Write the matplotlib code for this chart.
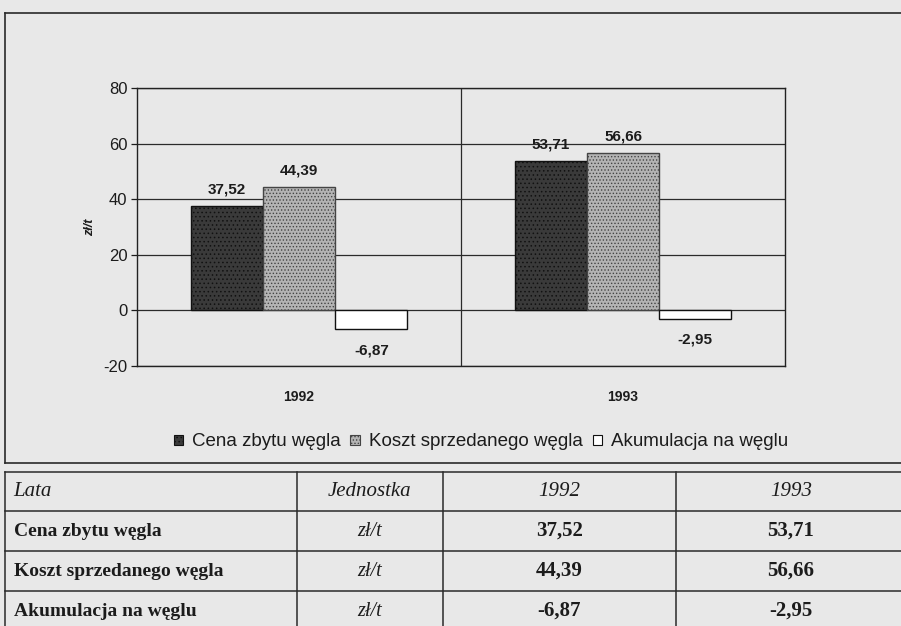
import matplotlib
matplotlib.use('Agg')
import matplotlib.pyplot as plt
from matplotlib.patches import Patch
from matplotlib.font_manager import FontProperties

# ---------------- data ----------------
years = ['1992', '1993']
series = ['Cena zbytu węgla', 'Koszt sprzedanego węgla', 'Akumulacja na węglu']
cena = [37.52, 53.71]
koszt = [44.39, 56.66]
akum = [-6.87, -2.95]
unit = 'zł/t'
table_header = ['Lata', 'Jednostka', '1992', '1993']
yticks = [-20, 0, 20, 40, 60, 80]

# ---------------- style ----------------
BG = '#e8e8e8'
INK = '#1c1c1c'
W, H = 901, 626
plt.rcParams['hatch.linewidth'] = 0.6

fig = plt.figure(figsize=(9.01, 6.26), dpi=100, facecolor=BG)


def fx(px):
    return px / W


def fy(py):
    return 1 - py / H


sans = 'Liberation Sans'
serif = 'Liberation Serif'

# ---------------- chart ----------------
ax = fig.add_axes([fx(137), fy(366), fx(785) - fx(137), fy(88) - fy(366)])
ax.set_facecolor('none')

bw = 0.223
xs = list(range(len(years)))
styles = [
    dict(facecolor='#3a3a3a', edgecolor='#111111', hatch='....'),
    dict(facecolor='#b4b4b4', edgecolor='#444444', hatch='.....'),
    dict(facecolor='white', edgecolor='#111111', hatch=None),
]
data = [cena, koszt, akum]
handles = []
for i, (vals, st) in enumerate(zip(data, styles)):
    pos = [x + (i - 1) * bw for x in xs]
    bars = ax.bar(pos, vals, width=bw, linewidth=1.0, zorder=3, **st)
    handles.append(Patch(linewidth=0.8, **st))
    for b, v in zip(bars, vals):
        txt = f"{v:.2f}".replace('.', ',')
        off = 12 if v >= 0 else -15
        ax.annotate(txt, (b.get_x() + b.get_width() / 2, v),
                    xytext=(0, off), textcoords='offset points',
                    ha='center', va='center', fontsize=11,
                    fontweight='bold', family=sans, color=INK, zorder=4)

ax.set_xlim(-0.5, len(years) - 0.5)
ax.set_ylim(yticks[0], yticks[-1])
ax.set_yticks(yticks)
ax.set_yticklabels([str(t) for t in yticks], family=sans, fontsize=12, color=INK)
ax.tick_params(axis='y', direction='out', length=4, width=0.9, color=INK, pad=3)
ax.set_xticks(xs)
ax.set_xticklabels(years, family=sans, fontsize=10, fontweight='bold', color=INK)
ax.tick_params(axis='x', length=0, pad=17)
ax.yaxis.grid(True, color='#2a2a2a', linewidth=0.9)
ax.set_axisbelow(True)
for k in range(1, len(years)):
    ax.axvline(k - 0.5, color='#2a2a2a', linewidth=0.9, zorder=1)
for s in ax.spines.values():
    s.set_color('#222222')
    s.set_linewidth(1.0)
ax.set_ylabel(unit, family=sans, fontsize=9, fontweight='bold', style='italic',
              color=INK, labelpad=5)

fig.legend(handles, series, loc='center', bbox_to_anchor=(fx(481), fy(442)),
           ncol=3, frameon=False, handlelength=0.5, handleheight=0.5,
           handletextpad=0.5, columnspacing=0.5,
           prop=FontProperties(family=sans, size=13.5), labelcolor=INK)

# ---------------- frame + table ----------------
ov = fig.add_axes([0, 0, 1, 1], zorder=-1)
ov.set_xlim(0, W)
ov.set_ylim(H, 0)
ov.axis('off')
ov.set_facecolor('none')

lc = '#2a2a2a'
# chart frame (open to the right edge)
ov.plot([5, W + 5], [13, 13], color=lc, lw=1.2)
ov.plot([5, 5], [13, 463], color=lc, lw=1.2)
ov.plot([5, W + 5], [463, 463], color=lc, lw=1.2)

row_y = [472, 511, 551, 591, 631]
col_x = [5, 297, 443, 676, 906]
for y in row_y:
    ov.plot([5, W + 5], [y, y], color=lc, lw=1.1)
for x in col_x[:-1]:
    ov.plot([x, x], [row_y[0], H + 5], color=lc, lw=1.1)

centers_x = [(col_x[i] + col_x[i + 1]) / 2 for i in range(4)]
row_c = [(row_y[i] + row_y[i + 1]) / 2 for i in range(4)]

# header
ov.text(13, row_c[0], table_header[0], ha='left', va='center', family=serif,
        style='italic', fontsize=15, color=INK)
for j in range(1, 4):
    ov.text(centers_x[j], row_c[0], table_header[j], ha='center', va='center',
            family=serif, style='italic', fontsize=15, color=INK)

# body
for r, (name, vals) in enumerate(zip(series, data)):
    yc = row_c[r + 1]
    ov.text(14, yc, name, ha='left', va='center', family=serif,
            fontweight='bold', fontsize=14, color=INK)
    ov.text(centers_x[1], yc, unit, ha='center', va='center', family=serif,
            style='italic', fontsize=14.5, color=INK)
    for j, v in enumerate(vals):
        ov.text(centers_x[2 + j], yc, f"{v:.2f}".replace('.', ','),
                ha='center', va='center', family=serif, fontweight='bold',
                fontsize=15, color=INK)

fig.savefig('out.png', dpi=100, facecolor=BG)
